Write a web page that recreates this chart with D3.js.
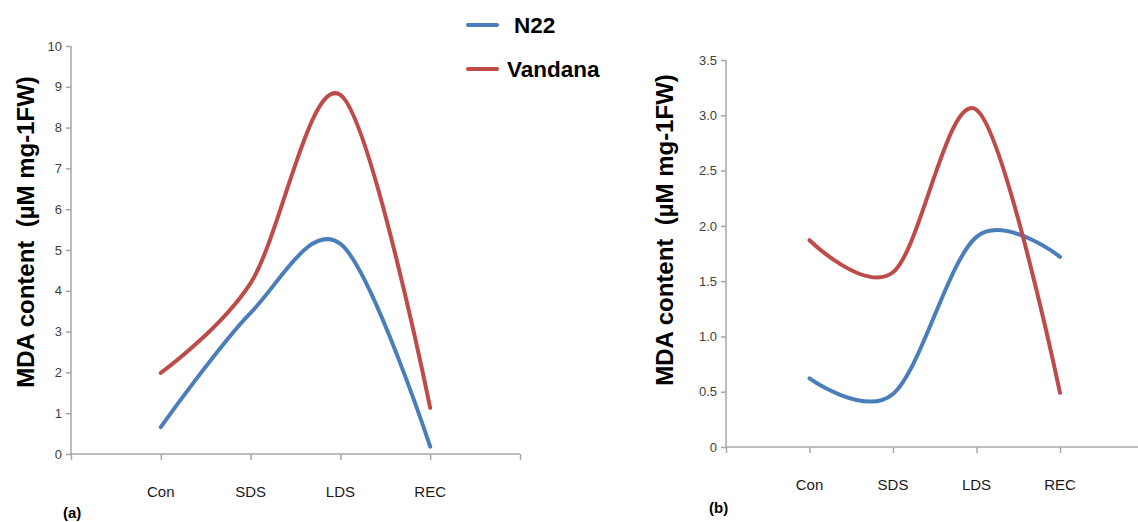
<!DOCTYPE html>
<html>
<head>
<meta charset="utf-8">
<script src="https://cdn.jsdelivr.net/npm/d3@7"></script>
<style>
  body { margin: 0; background: #fff; }
  text { font-family: "Liberation Sans", Arial, sans-serif; }
</style>
</head>
<body>
<div id="chart"></div>
<script>
var categories = ["Con", "SDS", "LDS", "REC"];
var seriesNames = ["N22", "Vandana"];
var colors = ["#4a7ebb", "#be4b48"];

// panel (a)
var n22A = [0.66, 3.46, 5.15, 0.18];
var vandanaA = [1.99, 4.19, 8.8, 1.13];
var ticksA = [0, 1, 2, 3, 4, 5, 6, 7, 8, 9, 10];

// panel (b)
var n22B = [0.62, 0.48, 1.9, 1.72];
var vandanaB = [1.87, 1.58, 3.05, 0.49];
var ticksB = [0, 0.5, 1.0, 1.5, 2.0, 2.5, 3.0, 3.5];

var svg = d3.select("#chart").append("svg")
    .attr("width", 1138).attr("height", 522);

var axisColor = "#a6a6a6";

function panel(opt) {
  var x = d3.scaleLinear().domain([0, 5]).range([opt.x0, opt.x1]);
  var y = d3.scaleLinear().domain([0, opt.ymax]).range([opt.y0, opt.y1]);
  var g = svg.append("g");

  // y axis
  var ya = g.append("g").attr("transform", "translate(" + opt.x0 + ",0)")
      .call(d3.axisLeft(y).tickValues(opt.ticks).tickSize(5).tickPadding(4)
        .tickFormat(opt.fmt));
  // x axis
  var xa = g.append("g").attr("transform", "translate(0," + opt.y0 + ")")
      .call(d3.axisBottom(x).ticks(5).tickSize(6).tickFormat(""));
  g.selectAll(".domain").attr("stroke", axisColor).attr("stroke-width", 1.5);
  g.selectAll(".tick line").attr("stroke", axisColor).attr("stroke-width", 1.5);
  xa.select(".domain").attr("d", "M" + opt.x0 + ",0H" + opt.x1);
  ya.select(".domain").attr("d", "M0," + opt.y0 + "V" + opt.y1);
  ya.selectAll(".tick text").attr("fill", "#404040").style("font-size", "13px");

  // category labels
  g.selectAll(".cat").data(categories).enter().append("text")
      .attr("x", function(d, i) { return x(i + 1); })
      .attr("y", opt.y0 + 43)
      .attr("text-anchor", "middle")
      .style("font-size", "15px")
      .attr("fill", "#1a1a1a")
      .text(function(d) { return d; });

  var line = d3.line()
      .x(function(d, i) { return x(i + 1); })
      .y(function(d) { return y(d); })
      .curve(d3.curveCardinal.tension(0));

  opt.series.forEach(function(s, k) {
    g.append("path").datum(s)
        .attr("d", line)
        .attr("fill", "none")
        .attr("stroke", colors[k])
        .attr("stroke-width", 4)
        .attr("stroke-linecap", "round");
  });

  // y title
  g.append("text")
      .attr("transform", "translate(" + opt.titleX + "," + opt.titleY + ") rotate(-90)")
      .attr("text-anchor", "middle")
      .style("font-size", "24px")
      .style("font-weight", "bold")
      .style("white-space", "pre")
      .attr("xml:space", "preserve")
      .text("MDA content  (\u00b5M mg-1FW)");

  g.append("text")
      .attr("x", opt.tagX).attr("y", opt.tagY)
      .style("font-size", "15px")
      .style("font-weight", "bold")
      .text(opt.tag);
}

panel({
  x0: 71, x1: 520, y0: 454, y1: 46, ymax: 10, ticks: ticksA,
  fmt: d3.format("d"), series: [n22A, vandanaA],
  titleX: 34, titleY: 232, tag: "(a)", tagX: 63, tagY: 518
});

panel({
  x0: 726, x1: 1143.5, y0: 447, y1: 60, ymax: 3.5, ticks: ticksB,
  fmt: function(d) { return d === 0 ? "0" : d3.format(".1f")(d); },
  series: [n22B, vandanaB],
  titleX: 673, titleY: 230, tag: "(b)", tagX: 709, tagY: 513
});

// legend
var legend = svg.append("g");
var legendY = [25, 69];
var legendTextX = [514, 507];
seriesNames.forEach(function(name, i) {
  legend.append("line")
      .attr("x1", 468).attr("x2", 497)
      .attr("y1", legendY[i]).attr("y2", legendY[i])
      .attr("stroke", colors[i]).attr("stroke-width", 4)
      .attr("stroke-linecap", "round");
  legend.append("text")
      .attr("x", legendTextX[i]).attr("y", legendY[i] + 8)
      .style("font-size", "22.5px")
      .style("font-weight", "bold")
      .text(name);
});
</script>
</body>
</html>
